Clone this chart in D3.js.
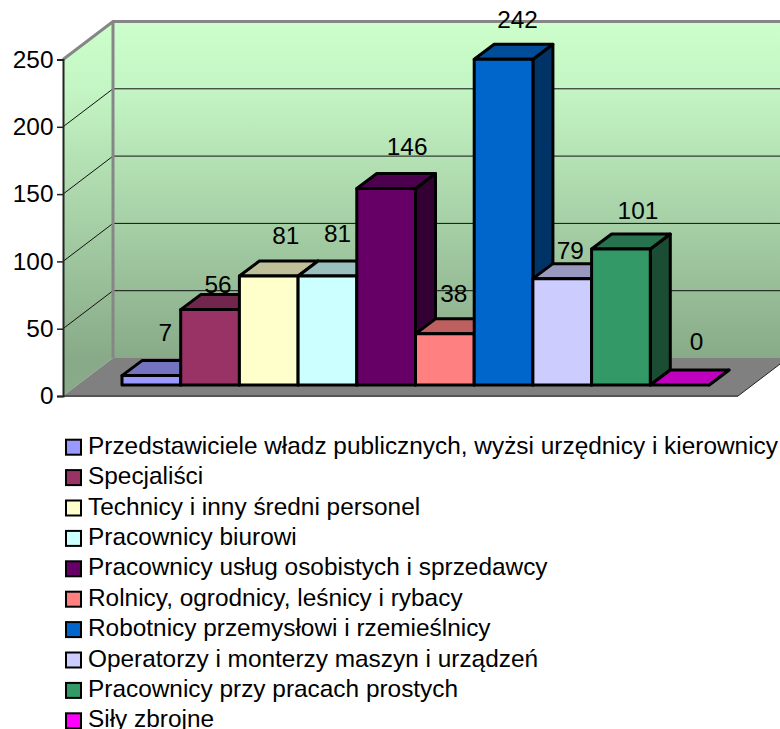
<!DOCTYPE html>
<html>
<head>
<meta charset="utf-8">
<script src="https://cdn.jsdelivr.net/npm/d3@7"></script>
<style>
  html, body { margin: 0; padding: 0; background: #fff; }
  svg { display: block; font-family: "Liberation Sans", Arial, sans-serif; fill: #000; }
</style>
</head>
<body>
<svg width="780" height="729" viewBox="0 0 780 729"></svg>
<script>
const categories = [
  'Przedstawiciele władz publicznych, wyżsi urzędnicy i kierownicy',
  'Specjaliści',
  'Technicy i inny średni personel',
  'Pracownicy biurowi',
  'Pracownicy usług osobistych i sprzedawcy',
  'Rolnicy, ogrodnicy, leśnicy i rybacy',
  'Robotnicy przemysłowi i rzemieślnicy',
  'Operatorzy i monterzy maszyn i urządzeń',
  'Pracownicy przy pracach prostych',
  'Siły zbrojne'
]
const values = [7, 56, 81, 81, 146, 38, 242, 79, 101, 0]
const colors = ['#9999ff', '#993366', '#ffffcc', '#ccffff', '#660066', '#ff8080', '#0066cc', '#ccccff', '#339966', '#ff00ff']
const yTicks = [0, 50, 100, 150, 200, 250]

const svg = d3.select('svg')
const fontSize = 24.4

// front plane of the box and the depth offset of the back wall
const frontLeft = 63
const frontRight = 738
const wallDx = 50
const wallDy = -38
const yAxisScale = d3.scaleLinear().domain([0, 250]).range([396, 59.5])

// bars stand a little in from the front edge of the floor
const barBase = 385
const barDx = 20
const barDy = -15
const y = d3.scaleLinear().domain([0, 250]).range([barBase, barBase - 336.5])
const x = d3.scaleBand().domain(categories).range([122, 709])

const shade = (color, k) => {
  const c = d3.rgb(color)
  return d3.rgb(c.r * k, c.g * k, c.b * k).formatHex()
}

const defs = svg.append('defs')
const grad = defs.append('linearGradient')
  .attr('id', 'wall').attr('gradientUnits', 'userSpaceOnUse')
  .attr('x1', 0).attr('x2', 0)
  .attr('y1', yAxisScale(250) + wallDy).attr('y2', yAxisScale(0) + wallDy)
grad.append('stop').attr('offset', 0).attr('stop-color', '#ccffcc')
grad.append('stop').attr('offset', 0.2).attr('stop-color', '#c4f5c4')
grad.append('stop').attr('offset', 1).attr('stop-color', '#88aa88')

const poly = (pts) => pts.map(p => p.join(',')).join(' ')
const y0 = yAxisScale(0)
const y250 = yAxisScale(250)

// left wall, back wall, floor
svg.append('polygon')
  .attr('points', poly([[frontLeft, y250], [frontLeft + wallDx, y250 + wallDy], [frontLeft + wallDx, y0 + wallDy], [frontLeft, y0]]))
  .attr('fill', 'url(#wall)')
svg.append('rect')
  .attr('x', frontLeft + wallDx).attr('y', y250 + wallDy)
  .attr('width', 780 - frontLeft - wallDx).attr('height', y0 - y250)
  .attr('fill', 'url(#wall)')
svg.append('polygon')
  .attr('points', poly([[frontLeft, y0], [frontLeft + wallDx, y0 + wallDy], [frontRight + wallDx, y0 + wallDy], [frontRight, y0]]))
  .attr('fill', '#808080')

// grid lines run across the back wall and down the left one
const grid = svg.append('g').attr('stroke', '#111').attr('stroke-width', 1)
yTicks.filter(t => t > 0 && t < 250).forEach(t => {
  grid.append('line')
    .attr('x1', frontLeft).attr('y1', yAxisScale(t))
    .attr('x2', frontLeft + wallDx).attr('y2', yAxisScale(t) + wallDy)
  grid.append('line')
    .attr('x1', frontLeft + wallDx).attr('y1', yAxisScale(t) + wallDy)
    .attr('x2', 780).attr('y2', yAxisScale(t) + wallDy)
})

// wall edges
svg.append('path')
  .attr('d', `M${frontLeft},${y250}L${frontLeft + wallDx},${y250 + wallDy}H780M${frontLeft + wallDx},${y250 + wallDy}V${y0 + wallDy}`)
  .attr('fill', 'none').attr('stroke', '#868686').attr('stroke-width', 3)
svg.append('line')
  .attr('x1', frontLeft).attr('y1', y0).attr('x2', frontRight).attr('y2', y0)
  .attr('stroke', '#555').attr('stroke-width', 2)
svg.append('line')
  .attr('x1', frontRight).attr('y1', y0).attr('x2', frontRight + wallDx).attr('y2', y0 + wallDy)
  .attr('stroke', '#222').attr('stroke-width', 1)

// y axis
const axis = svg.append('g')
  .attr('transform', `translate(${frontLeft},0)`)
  .call(d3.axisLeft(yAxisScale).tickValues(yTicks).tickSize(6).tickPadding(3.5))
axis.select('.domain').attr('stroke', '#222').attr('stroke-width', 2)
axis.selectAll('.tick line').attr('stroke', '#222').attr('stroke-width', 1.5)
axis.selectAll('text')
  .attr('font-size', fontSize).attr('font-family', '"Liberation Sans", Arial, sans-serif').attr('fill', '#000')

// bars, left to right so each one covers the side of the previous
const bars = svg.selectAll('g.bar').data(categories).enter().append('g').attr('class', 'bar')
  .attr('stroke', '#000').attr('stroke-width', 3).attr('stroke-linejoin', 'round')
bars.append('polygon')
  .attr('fill', (d, i) => shade(colors[i], 0.5))
  .attr('points', (d, i) => {
    const r = x(d) + x.bandwidth()
    const t = y(values[i])
    return poly([[r, t], [r + barDx, t + barDy], [r + barDx, barBase + barDy], [r, barBase]])
  })
bars.append('polygon')
  .attr('fill', (d, i) => shade(colors[i], 0.75))
  .attr('points', (d, i) => {
    const l = x(d)
    const r = l + x.bandwidth()
    const t = y(values[i])
    return poly([[l, t], [l + barDx, t + barDy], [r + barDx, t + barDy], [r, t]])
  })
bars.append('rect')
  .attr('fill', (d, i) => colors[i])
  .attr('x', d => x(d))
  .attr('y', (d, i) => y(values[i]))
  .attr('width', x.bandwidth())
  .attr('height', (d, i) => barBase - y(values[i]))

// data labels were moved by hand in the original, so each has its own nudge
const labelNudge = [[-15, -3], [-21, 15], [-12, 0], [-19, -2], [-8, -2], [-20, 0], [-15, 0], [-21, 12], [-12, 1], [-12, -4]]
svg.selectAll('text.value').data(values).enter().append('text')
  .attr('class', 'value')
  .attr('text-anchor', 'middle')
  .attr('dominant-baseline', 'central')
  .attr('font-size', fontSize)
  .attr('x', (d, i) => x(categories[i]) + x.bandwidth() / 2 + barDx + 9 + labelNudge[i][0])
  .attr('y', (d, i) => y(d) - 40 + labelNudge[i][1])
  .text(d => d)

// legend, the last row runs off the bottom of the picture as in the original
const legendY = d3.scaleBand().domain(categories).range([430, 734])
const legend = svg.selectAll('g.legend').data(categories).enter().append('g').attr('class', 'legend')
  .attr('transform', d => `translate(66,${legendY(d) + legendY.bandwidth() / 2})`)
legend.append('rect')
  .attr('x', 0).attr('y', -5.5).attr('width', 15).attr('height', 15)
  .attr('fill', (d, i) => colors[i])
  .attr('stroke', '#000').attr('stroke-width', 2)
legend.append('text')
  .attr('x', 22)
  .attr('dominant-baseline', 'central')
  .attr('font-size', fontSize)
  .text(d => d)
</script>
</body>
</html>
